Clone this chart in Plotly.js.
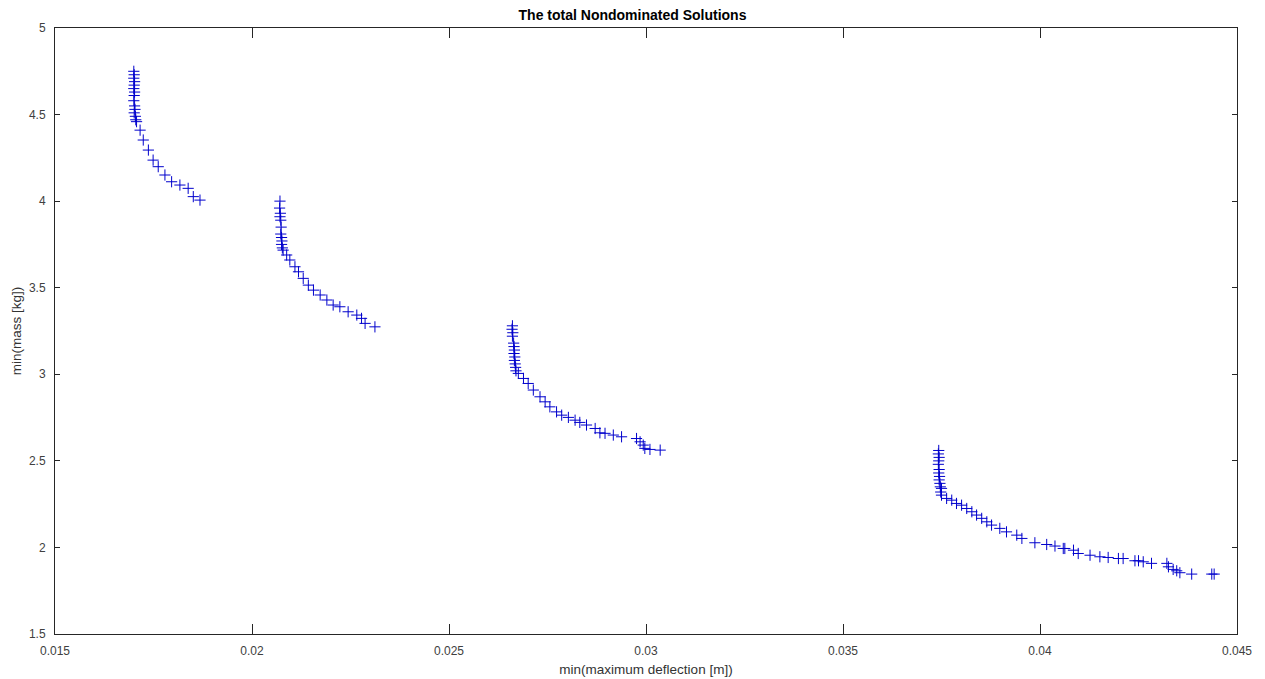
<!DOCTYPE html>
<html>
<head>
<meta charset="utf-8">
<script src="https://cdn.plot.ly/plotly-3.0.1.min.js"></script>
<style>html,body{margin:0;padding:0;background:#fff;}#chart{width:1265px;height:679px;}</style>
</head>
<body>
<div id="chart"></div>
<script>
// Cluster 1
const deflection1 = [0.01700,0.01701,0.01700,0.01702,0.01701,0.01700,0.01702,0.01701,0.01700,0.01702,0.01703,0.01701,0.01704,0.01705,
  0.01707,0.01716,0.01724,0.01737,0.01749,0.01762,0.01779,0.01796,0.01817,0.01838,0.01851,0.01868];
const mass1 = [4.75,4.73,4.71,4.69,4.67,4.65,4.63,4.61,4.58,4.55,4.53,4.51,4.49,4.47,
  4.459,4.41,4.353,4.295,4.237,4.199,4.151,4.112,4.093,4.074,4.026,4.006];
// Cluster 2
const deflection2 = [0.02071,0.02070,0.02072,0.02071,0.02073,0.02074,0.02073,0.02075,0.02076,0.02075,0.02077,
  0.02079,0.02088,0.02096,0.02109,0.02118,0.02130,0.02143,0.02156,0.02173,0.02190,0.02206,0.02223,0.02244,0.02266,0.02278,0.02287,0.02312];
const mass2 = [4.00,3.96,3.93,3.91,3.89,3.85,3.81,3.79,3.77,3.75,3.73,
  3.717,3.689,3.660,3.621,3.592,3.554,3.515,3.486,3.458,3.429,3.400,3.390,3.361,3.342,3.323,3.294,3.274];
// Cluster 3
const deflection3 = [0.02661,0.02660,0.02662,0.02661,0.02664,0.02665,0.02666,0.02665,0.02667,0.02666,0.02668,0.02669,0.02670,
  0.02676,0.02689,0.02701,0.02714,0.02731,0.02744,0.02756,0.02773,0.02786,0.02803,0.02820,0.02832,0.02849,0.02871,0.02883,0.02896,0.02917,
  0.02938,0.02976,0.02985,0.02993,0.02997,0.03010,0.03036];
const mass3 = [3.28,3.26,3.24,3.22,3.18,3.16,3.14,3.12,3.10,3.08,3.06,3.04,3.02,
  3.005,2.976,2.947,2.909,2.870,2.841,2.812,2.783,2.764,2.751,2.735,2.722,2.707,2.687,2.662,2.659,2.649,
  2.639,2.629,2.610,2.591,2.572,2.566,2.562];
// Cluster 4
const deflection4 = [0.03743,0.03742,0.03744,0.03743,0.03742,0.03744,0.03743,0.03745,0.03744,0.03746,0.03747,0.03748,
  0.03750,0.03750,0.03763,0.03776,0.03788,0.03801,0.03814,0.03827,0.03839,0.03852,0.03865,0.03877,0.03898,0.03915,0.03941,0.03954,
  0.03987,0.04017,0.04038,0.04059,0.04063,0.04085,0.04097,0.04127,0.04152,0.04173,0.04199,0.04211,0.04241,0.04250,0.04262,0.04283,
  0.04322,0.04326,0.04338,0.04347,0.04355,0.04385,0.04436,0.04442];
const mass4 = [2.56,2.54,2.52,2.50,2.48,2.45,2.43,2.41,2.39,2.37,2.35,2.32,
  2.341,2.302,2.283,2.273,2.254,2.244,2.225,2.206,2.187,2.168,2.148,2.129,2.110,2.090,2.071,2.052,
  2.027,2.017,2.008,1.994,1.994,1.984,1.965,1.955,1.946,1.942,1.936,1.936,1.923,1.923,1.917,1.908,
  1.908,1.888,1.873,1.865,1.854,1.846,1.846,1.846];

const xTicks = [0.015,0.02,0.025,0.03,0.035,0.04,0.045];
const xTickText = ['0.015','0.02','0.025','0.03','0.035','0.04','0.045'];
const yTicks = [1.5,2,2.5,3,3.5,4,4.5,5];
const yTickText = ['1.5','2','2.5','3','3.5','4','4.5','5'];

const xs = deflection1.concat(deflection2, deflection3, deflection4);
const ys = mass1.concat(mass2, mass3, mass4);

const trace = {
  x: xs, y: ys, type: 'scatter', mode: 'markers',
  marker: {symbol: 'cross-thin-open', size: 8, color: '#0000cc', line: {color: '#0000cc', width: 1}},
  hoverinfo: 'x+y', showlegend: false
};

const fam = '"Liberation Sans", Arial, sans-serif';
const axisCommon = {
  showline: true, linecolor: '#262626', linewidth: 1, mirror: 'ticks',
  ticks: 'inside', tickcolor: '#262626', tickwidth: 1,
  showgrid: false, zeroline: false, tickmode: 'array',
  tickfont: {family: fam, size: 12, color: '#404040'}
};

const layout = {
  width: 1265, height: 679,
  paper_bgcolor: '#ffffff', plot_bgcolor: '#ffffff',
  margin: {l: 55, r: 28, t: 28, b: 45},
  font: {family: fam, size: 12, color: '#262626'},
  title: {text: '<b>The total Nondominated Solutions</b>', font: {family: fam, size: 14, color: '#000'}, x: 0.5, xanchor: 'center', y: 0.978, yanchor: 'middle'},
  xaxis: Object.assign({}, axisCommon, {
    range: [0.015, 0.045], tickvals: xTicks, ticktext: xTickText, ticklen: 10, ticklabelstandoff: 6,
    title: {text: 'min(maximum deflection [m])', font: {family: fam, size: 13.5, color: '#333333'}, standoff: 7}
  }),
  yaxis: Object.assign({}, axisCommon, {
    range: [1.5, 5], tickvals: yTicks, ticktext: yTickText, ticklen: 5, ticklabelstandoff: 6,
    title: {text: 'min(mass [kg])', font: {family: fam, size: 13.5, color: '#333333'}, standoff: 4}
  })
};

Plotly.newPlot('chart', [trace], layout, {displayModeBar: false, staticPlot: true});
</script>
</body>
</html>
